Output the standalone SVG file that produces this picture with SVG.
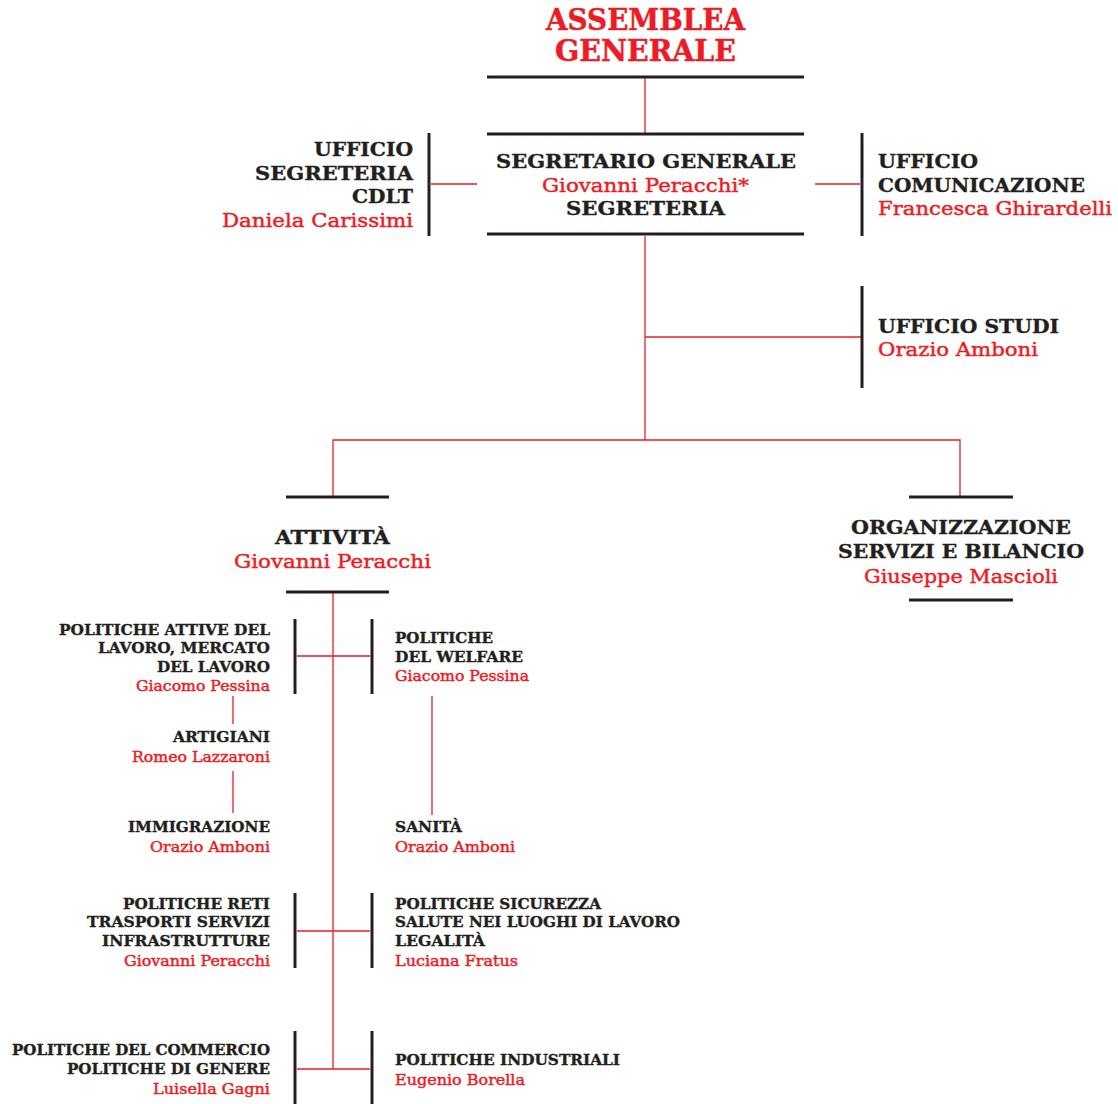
<svg xmlns="http://www.w3.org/2000/svg" width="1118" height="1104" viewBox="0 0 1118 1104">
<style>
text{font-family:"DejaVu Serif","Liberation Serif",serif;}
.b{fill:#231f20;font-weight:bold;stroke:#231f20;stroke-width:0.35;}
.r{fill:#ed1c24;stroke:#ed1c24;stroke-width:0.45;}
.rb{fill:#ed1c24;font-weight:bold;stroke:#ed1c24;stroke-width:0.5;}
.xl{font-size:29px;}
.l{font-size:19px;}
.s{font-size:14px;}
.k{stroke:#231f20;stroke-width:3;fill:none;}
.c{stroke:#ed1c24;stroke-width:1.3;fill:none;}
</style>
<rect width="1118" height="1104" fill="#ffffff"/>
<g id="connectors">
<line class="c" x1="645" y1="78" x2="645" y2="133"/>
<line class="c" x1="431" y1="184" x2="477" y2="184"/>
<line class="c" x1="815" y1="184" x2="860" y2="184"/>
<line class="c" x1="645" y1="236" x2="645" y2="440"/>
<line class="c" x1="645" y1="337" x2="861" y2="337"/>
<polyline class="c" points="333,497 333,440 960,440 960,497"/>
<line class="c" x1="333" y1="593" x2="333" y2="1069"/>
<line class="c" x1="297" y1="656" x2="370" y2="656"/>
<line class="c" x1="233" y1="696" x2="233" y2="724"/>
<line class="c" x1="233" y1="771" x2="233" y2="813"/>
<line class="c" x1="432" y1="696" x2="432" y2="815"/>
<line class="c" x1="297" y1="931" x2="370" y2="931"/>
<line class="c" x1="297" y1="1069" x2="370" y2="1069"/>
</g>
<g id="assemblea">
<text class="rb xl" x="546" y="30" textLength="199" lengthAdjust="spacingAndGlyphs">ASSEMBLEA</text>
<text class="rb xl" x="555" y="61" textLength="181" lengthAdjust="spacingAndGlyphs">GENERALE</text>
<line class="k" x1="487" y1="77" x2="804" y2="77"/>
</g>
<g id="segretario">
<line class="k" x1="487" y1="134" x2="804" y2="134"/>
<text class="b l" x="496" y="168" textLength="300" lengthAdjust="spacingAndGlyphs">SEGRETARIO GENERALE</text>
<text class="r l" x="542" y="192" textLength="207" lengthAdjust="spacingAndGlyphs">Giovanni Peracchi*</text>
<text class="b l" x="566" y="215" textLength="159" lengthAdjust="spacingAndGlyphs">SEGRETERIA</text>
<line class="k" x1="487" y1="234" x2="804" y2="234"/>
</g>
<g id="ufficio-segreteria">
<line class="k" x1="429" y1="133" x2="429" y2="236"/>
<text class="b l" x="314" y="156" textLength="99" lengthAdjust="spacingAndGlyphs">UFFICIO</text>
<text class="b l" x="255" y="180" textLength="158" lengthAdjust="spacingAndGlyphs">SEGRETERIA</text>
<text class="b l" x="352" y="203" textLength="61" lengthAdjust="spacingAndGlyphs">CDLT</text>
<text class="r l" x="222" y="227" textLength="191" lengthAdjust="spacingAndGlyphs">Daniela Carissimi</text>
</g>
<g id="ufficio-comunicazione">
<line class="k" x1="862" y1="133" x2="862" y2="236"/>
<text class="b l" x="878" y="168" textLength="100" lengthAdjust="spacingAndGlyphs">UFFICIO</text>
<text class="b l" x="878" y="192" textLength="207" lengthAdjust="spacingAndGlyphs">COMUNICAZIONE</text>
<text class="r l" x="878" y="215" textLength="234" lengthAdjust="spacingAndGlyphs">Francesca Ghirardelli</text>
</g>
<g id="ufficio-studi">
<line class="k" x1="862" y1="286" x2="862" y2="388"/>
<text class="b l" x="878" y="333" textLength="181" lengthAdjust="spacingAndGlyphs">UFFICIO STUDI</text>
<text class="r l" x="878" y="356" textLength="160" lengthAdjust="spacingAndGlyphs">Orazio Amboni</text>
</g>
<g id="attivita">
<line class="k" x1="286" y1="497" x2="389" y2="497"/>
<text class="b l" x="275" y="544" textLength="115" lengthAdjust="spacingAndGlyphs">ATTIVITÀ</text>
<text class="r l" x="234" y="568" textLength="197" lengthAdjust="spacingAndGlyphs">Giovanni Peracchi</text>
<line class="k" x1="286" y1="592" x2="389" y2="592"/>
</g>
<g id="organizzazione">
<line class="k" x1="909" y1="497" x2="1013" y2="497"/>
<text class="b l" x="851" y="534" textLength="220" lengthAdjust="spacingAndGlyphs">ORGANIZZAZIONE</text>
<text class="b l" x="838" y="558" textLength="246" lengthAdjust="spacingAndGlyphs">SERVIZI E BILANCIO</text>
<text class="r l" x="864" y="583" textLength="194" lengthAdjust="spacingAndGlyphs">Giuseppe Mascioli</text>
<line class="k" x1="909" y1="600" x2="1013" y2="600"/>
</g>
<g id="politiche-attive">
<line class="k" x1="295" y1="619" x2="295" y2="694"/>
<text class="b s" x="59" y="635" textLength="211" lengthAdjust="spacingAndGlyphs">POLITICHE ATTIVE DEL</text>
<text class="b s" x="98" y="653" textLength="172" lengthAdjust="spacingAndGlyphs">LAVORO, MERCATO</text>
<text class="b s" x="157" y="672" textLength="113" lengthAdjust="spacingAndGlyphs">DEL LAVORO</text>
<text class="r s" x="136" y="691" textLength="134" lengthAdjust="spacingAndGlyphs">Giacomo Pessina</text>
</g>
<g id="politiche-welfare">
<line class="k" x1="372" y1="619" x2="372" y2="694"/>
<text class="b s" x="395" y="643" textLength="98" lengthAdjust="spacingAndGlyphs">POLITICHE</text>
<text class="b s" x="395" y="662" textLength="128" lengthAdjust="spacingAndGlyphs">DEL WELFARE</text>
<text class="r s" x="395" y="681" textLength="134" lengthAdjust="spacingAndGlyphs">Giacomo Pessina</text>
</g>
<g id="artigiani">
<text class="b s" x="173" y="742" textLength="97" lengthAdjust="spacingAndGlyphs">ARTIGIANI</text>
<text class="r s" x="132" y="762" textLength="138" lengthAdjust="spacingAndGlyphs">Romeo Lazzaroni</text>
</g>
<g id="immigrazione">
<text class="b s" x="128" y="832" textLength="142" lengthAdjust="spacingAndGlyphs">IMMIGRAZIONE</text>
<text class="r s" x="150" y="852" textLength="120" lengthAdjust="spacingAndGlyphs">Orazio Amboni</text>
</g>
<g id="sanita">
<text class="b s" x="395" y="832" textLength="67" lengthAdjust="spacingAndGlyphs">SANITÀ</text>
<text class="r s" x="395" y="852" textLength="120" lengthAdjust="spacingAndGlyphs">Orazio Amboni</text>
</g>
<g id="politiche-reti">
<line class="k" x1="295" y1="893" x2="295" y2="968"/>
<text class="b s" x="123" y="909" textLength="147" lengthAdjust="spacingAndGlyphs">POLITICHE RETI</text>
<text class="b s" x="87" y="927" textLength="183" lengthAdjust="spacingAndGlyphs">TRASPORTI SERVIZI</text>
<text class="b s" x="102" y="946" textLength="168" lengthAdjust="spacingAndGlyphs">INFRASTRUTTURE</text>
<text class="r s" x="124" y="966" textLength="146" lengthAdjust="spacingAndGlyphs">Giovanni Peracchi</text>
</g>
<g id="politiche-sicurezza">
<line class="k" x1="372" y1="893" x2="372" y2="968"/>
<text class="b s" x="395" y="909" textLength="206" lengthAdjust="spacingAndGlyphs">POLITICHE SICUREZZA</text>
<text class="b s" x="395" y="927" textLength="285" lengthAdjust="spacingAndGlyphs">SALUTE NEI LUOGHI DI LAVORO</text>
<text class="b s" x="395" y="946" textLength="90" lengthAdjust="spacingAndGlyphs">LEGALITÀ</text>
<text class="r s" x="395" y="966" textLength="123" lengthAdjust="spacingAndGlyphs">Luciana Fratus</text>
</g>
<g id="politiche-commercio">
<line class="k" x1="295" y1="1031" x2="295" y2="1104"/>
<text class="b s" x="12" y="1055" textLength="258" lengthAdjust="spacingAndGlyphs">POLITICHE DEL COMMERCIO</text>
<text class="b s" x="67" y="1074" textLength="203" lengthAdjust="spacingAndGlyphs">POLITICHE DI GENERE</text>
<text class="r s" x="153" y="1094" textLength="117" lengthAdjust="spacingAndGlyphs">Luisella Gagni</text>
</g>
<g id="politiche-industriali">
<line class="k" x1="372" y1="1031" x2="372" y2="1104"/>
<text class="b s" x="395" y="1065" textLength="225" lengthAdjust="spacingAndGlyphs">POLITICHE INDUSTRIALI</text>
<text class="r s" x="395" y="1085" textLength="130" lengthAdjust="spacingAndGlyphs">Eugenio Borella</text>
</g>
</svg>
